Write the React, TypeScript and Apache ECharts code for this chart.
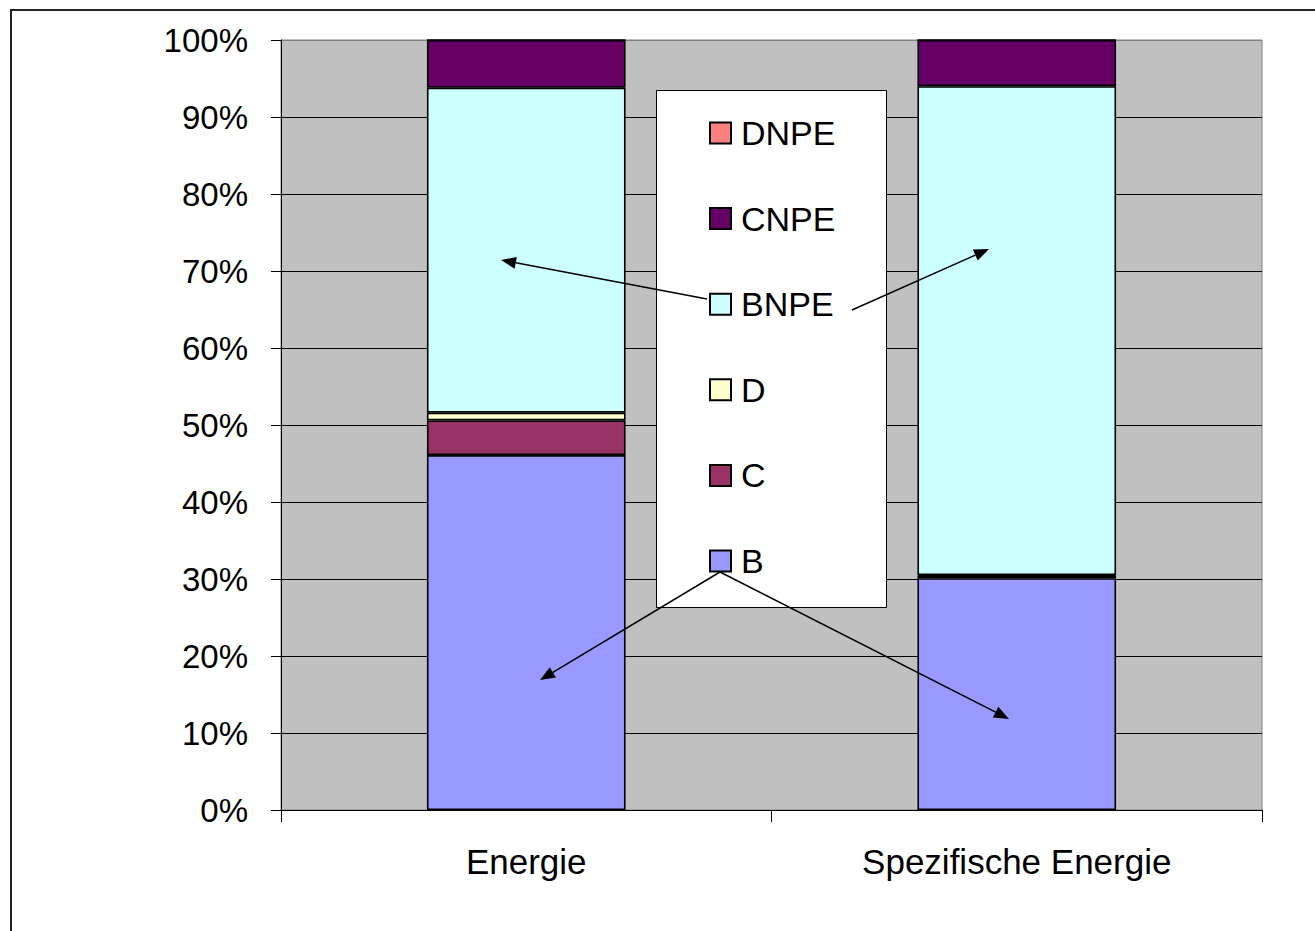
import React, { useEffect, useRef } from "react";
import * as echarts from "echarts";

const categories = ["Energie", "Spezifische Energie"];
const seriesNames = ["B", "C", "D", "BNPE", "CNPE", "DNPE"];
const valuesB = [46.1, 30.1];
const valuesC = [4.5, 0.3];
const valuesD = [1.0, 0.1];
const valuesBNPE = [42.2, 63.5];
const valuesCNPE = [6.2, 6.0];
const valuesDNPE = [0, 0];
const legendOrder = ["DNPE", "CNPE", "BNPE", "D", "C", "B"];
const colors = ["#9999FF", "#993366", "#FFFFCC", "#CCFFFF", "#660066", "#FF8080"];

const FONT = "Liberation Sans, Arial, sans-serif";

function arrow(x1: number, y1: number, x2: number, y2: number) {
  const dx = x2 - x1;
  const dy = y2 - y1;
  const len = Math.sqrt(dx * dx + dy * dy);
  const ux = dx / len;
  const uy = dy / len;
  const hl = 15;
  const hw = 6;
  const bx = x2 - ux * hl;
  const by = y2 - uy * hl;
  return [
    {
      type: "line",
      z: 100,
      shape: { x1, y1, x2: bx, y2: by },
      style: { stroke: "#000", lineWidth: 1.5 },
    },
    {
      type: "polygon",
      z: 100,
      shape: {
        points: [
          [x2, y2],
          [bx - uy * hw, by + ux * hw],
          [bx + uy * hw, by - ux * hw],
        ],
      },
      style: { fill: "#000" },
    },
  ];
}

export default function App() {
  const ref = useRef<HTMLDivElement>(null);
  useEffect(() => {
    if (!ref.current) return;
    const chart = echarts.init(ref.current, null, { renderer: "svg" });
    const allValues = [valuesB, valuesC, valuesD, valuesBNPE, valuesCNPE, valuesDNPE];
    const splitColors = Array.from({ length: 11 }, (_, i) => (i === 10 ? "#808080" : "#000000"));
    chart.setOption({
      animation: false,
      backgroundColor: "#ffffff",
      textStyle: { fontFamily: FONT },
      grid: {
        left: 281,
        top: 40,
        width: 981,
        height: 770,
        show: true,
        backgroundColor: "#C0C0C0",
        borderColor: "#808080",
        borderWidth: 1,
      },
      legend: {
        data: legendOrder,
        orient: "vertical",
        left: 709,
        top: 116,
        padding: 0,
        itemWidth: 21,
        itemHeight: 21,
        itemGap: 51.6,
        icon: "rect",
        selectedMode: false,
        itemStyle: { borderColor: "#000", borderWidth: 2 },
        textStyle: {
          fontFamily: FONT,
          fontSize: 34,
          lineHeight: 34,
          color: "#000",
          padding: [0, 0, 0, 5],
        },
      },
      xAxis: {
        type: "category",
        data: categories,
        axisLine: { lineStyle: { color: "#000", width: 1 } },
        axisTick: { show: true, length: 12, lineStyle: { color: "#000" } },
        axisLabel: { fontFamily: FONT, fontSize: 35, color: "#000", margin: 34 },
      },
      yAxis: {
        type: "value",
        min: 0,
        max: 100,
        interval: 10,
        axisLine: { show: true, lineStyle: { color: "#000", width: 1 } },
        axisTick: { show: true, length: 10, lineStyle: { color: "#000" } },
        axisLabel: {
          formatter: "{value}%",
          fontFamily: FONT,
          fontSize: 33,
          color: "#000",
          margin: 33,
        },
        splitLine: { show: true, lineStyle: { color: splitColors, width: 1 } },
      },
      series: seriesNames.map((name, i) => ({
        name,
        type: "bar",
        stack: "total",
        barWidth: "40.5%",
        data: allValues[i],
        itemStyle: { color: colors[i], borderColor: "#000", borderWidth: 1.6 },
      })),
      graphic: [
        {
          type: "rect",
          z: 0,
          silent: true,
          shape: { x: 11, y: 10, width: 1400, height: 1000 },
          style: { fill: "none", stroke: "#222", lineWidth: 2 },
        },
        {
          type: "rect",
          z: 1,
          shape: { x: 656.5, y: 90.5, width: 230, height: 517 },
          style: { fill: "#ffffff", stroke: "#000", lineWidth: 1 },
        },
        ...arrow(707, 299, 501, 260),
        ...arrow(852, 310, 989, 249),
        ...arrow(720, 572, 540, 680),
        ...arrow(720, 572, 1009, 719),
      ],
    });
    return () => chart.dispose();
  }, []);
  return (
    <div
      ref={ref}
      style={{ position: "fixed", left: 0, top: 0, width: 1315, height: 931 }}
    />
  );
}
